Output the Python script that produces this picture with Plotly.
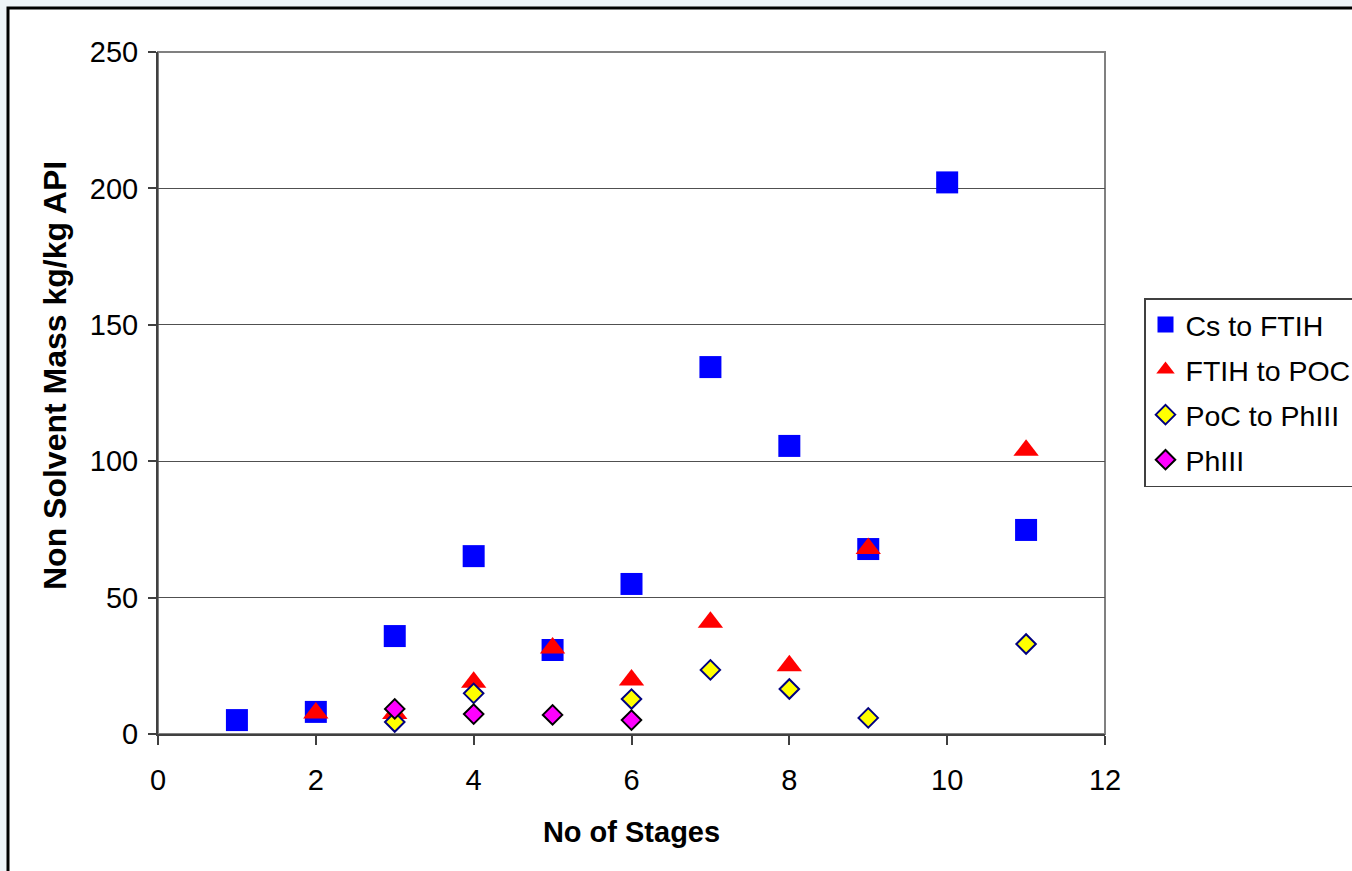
import plotly.graph_objects as go

# Stage counts and non-solvent mass (kg/kg API) for each route segment
cs_stages = [1, 2, 3, 4, 5, 6, 7, 8, 9, 10, 11]
cs_mass = [5.1, 8.1, 35.9, 65.2, 30.8, 55.0, 134.5, 105.6, 67.8, 202.2, 74.8]

ftih_stages = [2, 3, 4, 5, 6, 7, 8, 9, 11]
ftih_mass = [7.7, 7.5, 19.0, 31.5, 19.8, 41.0, 25.0, 68.0, 104.0]

poc_stages = [3, 4, 6, 7, 8, 9, 11]
poc_mass = [4.4, 14.9, 12.8, 23.5, 16.5, 5.9, 33.0]

ph3_stages = [3, 4, 5, 6]
ph3_mass = [9.2, 7.3, 7.0, 5.1]

x_ticks = [0, 2, 4, 6, 8, 10, 12]
y_ticks = [0, 50, 100, 150, 200, 250]

FONT = "Liberation Sans, Arial, sans-serif"

fig = go.Figure()
fig.add_trace(go.Scatter(
    x=cs_stages, y=cs_mass, mode="markers", name="Cs to FTIH", legendgroup="a",
    marker=dict(symbol="square", size=22, color="#0000ff", line=dict(width=0)),
))
fig.add_trace(go.Scatter(
    x=ftih_stages, y=ftih_mass, mode="markers", name="FTIH to POC", legendgroup="b",
    marker=dict(symbol="triangle-up", size=22, color="#ff0000", line=dict(width=0)),
))
fig.add_trace(go.Scatter(
    x=poc_stages, y=poc_mass, mode="markers", name="PoC to PhIII", legendgroup="c",
    marker=dict(symbol="diamond", size=15, color="#ffff00",
                line=dict(width=2, color="#000080")),
))
fig.add_trace(go.Scatter(
    x=ph3_stages, y=ph3_mass, mode="markers", name="PhIII", legendgroup="d",
    marker=dict(symbol="diamond", size=15, color="#ff00ff",
                line=dict(width=2, color="#000000")),
))

# plot area 158..1105 px wide, 52..734 px tall
L, R, T, B = 158, 247, 52, 137
W, H = 1352 - L - R, 871 - T - B

def px_x(p):
    return (p - L) / W

def px_y(p):
    return (871 - B - p) / H

shapes = [
    # white chart panel with black frame
    dict(type="rect", xref="paper", yref="paper", layer="below",
         x0=px_x(8), x1=px_x(1400), y0=px_y(8), y1=px_y(900),
         fillcolor="#ffffff", line=dict(color="#000000", width=3)),
    # grey plot-area frame
    dict(type="rect", xref="paper", yref="paper", layer="below",
         x0=0, x1=1, y0=0, y1=1, fillcolor="rgba(0,0,0,0)",
         line=dict(color="#808080", width=2)),
]

# vertical axis title, placed as a rotated annotation
annotations = [
    dict(text="<b>Non Solvent Mass kg/kg API</b>", textangle=-90,
         xref="paper", yref="paper", x=px_x(55), y=px_y(376),
         xanchor="center", yanchor="middle", showarrow=False,
         font=dict(family=FONT, size=32, color="#000000")),
]

fig.update_layout(
    width=1352, height=871,
    margin=dict(l=L, r=R, t=T, b=B, autoexpand=False),
    paper_bgcolor="#eef3f7",
    plot_bgcolor="#ffffff",
    font=dict(family=FONT, size=29, color="#000000"),
    shapes=shapes,
    annotations=annotations,
    showlegend=True,
    legend=dict(
        x=px_x(1144), y=px_y(298), xanchor="left", yanchor="top",
        bgcolor="#ffffff", bordercolor="#404040", borderwidth=1.5,
        font=dict(family=FONT, size=28.5, color="#000000"),
        traceorder="grouped", tracegroupgap=5,
    ),
    xaxis=dict(
        range=[0, 12], tickvals=x_ticks, showgrid=False, zeroline=False,
        showline=True, linecolor="#404040", linewidth=2,
        ticks="outside", ticklen=9, tickwidth=2, tickcolor="#404040",
        ticklabelstandoff=10,
        tickfont=dict(family=FONT, size=29),
        title=dict(text="<b>No of Stages</b>", standoff=27,
                   font=dict(family=FONT, size=29)),
    ),
    yaxis=dict(
        range=[0, 250], tickvals=y_ticks, showgrid=True,
        gridcolor="#505050", gridwidth=1, zeroline=False,
        showline=True, linecolor="#404040", linewidth=2,
        ticks="outside", ticklen=8, tickwidth=2, tickcolor="#404040",
        ticklabelstandoff=4,
        tickfont=dict(family=FONT, size=29),
    ),
)

fig.write_html("out.html")
